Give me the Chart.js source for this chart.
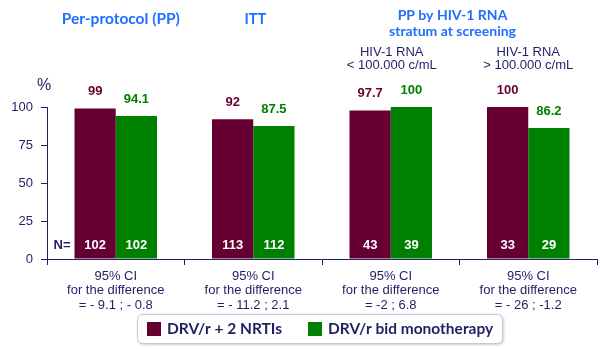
<!DOCTYPE html>
<html>
<head>
<meta charset="utf-8">
<script src="https://cdn.jsdelivr.net/npm/chart.js@4.4.1/dist/chart.umd.min.js"></script>
<style>
    html, body { margin: 0; padding: 0; background: #ffffff; }
    #chart { display: block; }
</style>
</head>
<body>
<canvas id="chart" width="600" height="349"></canvas>
<script>
// chart data
const ciLabels = [
    ['95% CI', 'for the difference', '= - 9.1 ; - 0.8'],
    ['95% CI', 'for the difference', '= - 11.2 ; 2.1'],
    ['95% CI', 'for the difference', '= -2 ; 6.8'],
    ['95% CI', 'for the difference', '= - 26 ; -1.2']
];
const seriesNames = ['DRV/r + 2 NRTIs', 'DRV/r bid monotherapy'];
const tripleValues = [99, 92, 97.7, 100];
const monoValues = [94.1, 87.5, 100, 86.2];
const tripleN = [102, 113, 43, 33];
const monoN = [102, 112, 39, 29];
const yTicks = [0, 25, 50, 75, 100];

const navy = '#1f1f66';
const blue = '#1f6fff';
const maroon = '#660033';
const green = '#008000';

const annotations = {
    id: 'annotations',
    afterDatasetsDraw(chart) {
        const ctx = chart.ctx;
        const x = chart.scales.x;
        ctx.save();
        ctx.textAlign = 'center';
        ctx.textBaseline = 'middle';

        // value labels above bars, N inside bars
        chart.data.datasets.forEach((ds, i) => {
            const meta = chart.getDatasetMeta(i);
            meta.data.forEach((bar, j) => {
                ctx.font = 'bold 13px "Liberation Sans", Arial, sans-serif';
                ctx.fillStyle = ds.backgroundColor;
                ctx.fillText(String(ds.data[j]), bar.x, bar.y - 17);
                ctx.fillStyle = '#ffffff';
                ctx.fillText(String(ds.counts[j]), bar.x, 245);
            });
        });

        ctx.fillStyle = navy;
        ctx.font = 'bold 13px "Liberation Sans", Arial, sans-serif';
        ctx.fillText('N=', 62, 245);
        ctx.font = '16px "Liberation Sans", Arial, sans-serif';
        ctx.fillText('%', 44, 86);

        // group headings
        const c = [0, 1, 2, 3].map(k => x.getPixelForValue(k));
        ctx.fillStyle = blue;
        ctx.font = 'bold 15.5px Lato, sans-serif';
        ctx.fillText('Per-protocol (PP)', c[0] + 5, 19);
        ctx.font = 'bold 14.5px Lato, sans-serif';
        ctx.fillText('ITT', c[1] + 2, 19);
        const mid = (c[2] + c[3]) / 2 - 7;
        ctx.font = 'bold 14px Lato, sans-serif';
        ctx.fillText('PP by HIV-1 RNA', mid, 15);
        ctx.fillText('stratum at screening', mid, 31);

        ctx.fillStyle = navy;
        ctx.font = '13px "Liberation Sans", Arial, sans-serif';
        ctx.fillText('HIV-1 RNA', c[2] + 1, 52);
        ctx.fillText('< 100.000 c/mL', c[2] + 1, 65);
        ctx.fillText('HIV-1 RNA', c[3], 52);
        ctx.fillText('> 100.000 c/mL', c[3], 65);

        // legend box
        ctx.shadowColor = 'rgba(0,0,0,0.25)';
        ctx.shadowBlur = 3;
        ctx.shadowOffsetX = 1;
        ctx.shadowOffsetY = 1;
        ctx.fillStyle = '#ffffff';
        ctx.strokeStyle = '#c4c8dc';
        ctx.lineWidth = 1;
        ctx.beginPath();
        ctx.roundRect(137.5, 314.5, 365, 29, 5);
        ctx.fill();
        ctx.shadowColor = 'transparent';
        ctx.stroke();

        const items = [[147, 167], [308, 328]];
        ctx.textAlign = 'left';
        ctx.font = 'bold 15.5px Lato, sans-serif';
        chart.data.datasets.forEach((ds, i) => {
            ctx.fillStyle = ds.backgroundColor;
            ctx.fillRect(items[i][0], 322, 14, 14);
            ctx.fillStyle = navy;
            ctx.fillText(ds.label, items[i][1], 329);
        });
        ctx.restore();
    }
};

const chart = new Chart(document.getElementById('chart'), {
    type: 'bar',
    data: {
        labels: ciLabels,
        datasets: [{
            label: seriesNames[0],
            data: tripleValues,
            counts: tripleN,
            backgroundColor: maroon
        }, {
            label: seriesNames[1],
            data: monoValues,
            counts: monoN,
            backgroundColor: green
        }]
    },
    options: {
        responsive: false,
        animation: false,
        layout: {
            padding: { top: 107, right: 3, bottom: 0, left: 0 }
        },
        datasets: {
            bar: { categoryPercentage: 0.6, barPercentage: 1 }
        },
        plugins: {
            legend: { display: false },
            tooltip: { enabled: false }
        },
        scales: {
            x: {
                afterFit(scale) { scale.height = 90; },
                border: { color: navy, width: 1 },
                grid: {
                    offset: true,
                    drawOnChartArea: false,
                    tickLength: 6,
                    color: navy
                },
                ticks: {
                    color: navy,
                    padding: 4,
                    maxRotation: 0,
                    font: { family: '"Liberation Sans", Arial, sans-serif', size: 13, lineHeight: 1.12 }
                }
            },
            y: {
                min: 0,
                max: 100,
                afterFit(scale) { scale.width = 47; },
                afterBuildTicks(scale) { scale.ticks = yTicks.map(v => ({ value: v })); },
                border: { color: navy, width: 1 },
                grid: {
                    drawOnChartArea: false,
                    tickLength: 6,
                    color: navy
                },
                ticks: {
                    color: navy,
                    padding: 8,
                    font: { family: '"Liberation Sans", Arial, sans-serif', size: 13 }
                }
            }
        }
    },
    plugins: [annotations]
});
</script>
</body>
</html>
